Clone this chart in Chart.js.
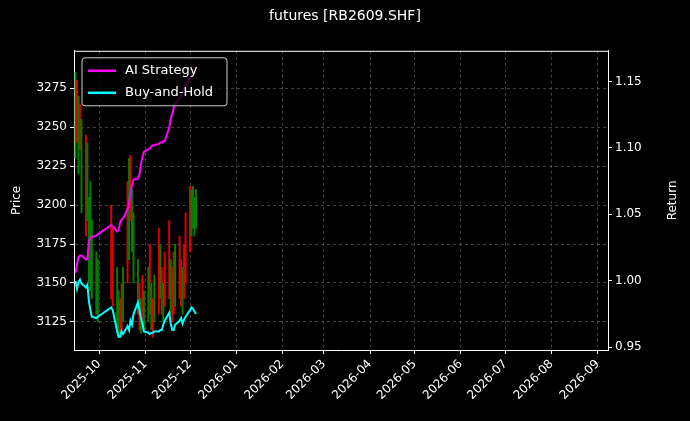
<!DOCTYPE html>
<html>
<head>
<meta charset="utf-8">
<script src="https://cdn.jsdelivr.net/npm/chart.js@4"></script>
<style>
  html, body { margin: 0; background: #000; }
  #wrap { width: 690px; height: 421px; }
</style>
</head>
<body>
<div id="wrap"><canvas id="chart"></canvas></div>
<script>
// trading days shown
const dates = [
  '2025-09-15','2025-09-16','2025-09-17','2025-09-18','2025-09-19',
  '2025-09-22','2025-09-23','2025-09-24','2025-09-25','2025-09-26',
  '2025-09-29','2025-09-30',
  '2025-10-09','2025-10-10',
  '2025-10-13','2025-10-14','2025-10-15','2025-10-16','2025-10-17',
  '2025-10-20','2025-10-21','2025-10-22','2025-10-23','2025-10-24',
  '2025-10-27','2025-10-28','2025-10-29','2025-10-30','2025-10-31',
  '2025-11-03','2025-11-04','2025-11-05','2025-11-06','2025-11-07',
  '2025-11-10','2025-11-11','2025-11-12','2025-11-13','2025-11-14',
  '2025-11-17','2025-11-18','2025-11-19','2025-11-20','2025-11-21',
  '2025-11-24','2025-11-25','2025-11-26','2025-11-27','2025-11-28',
  '2025-12-01','2025-12-02','2025-12-03','2025-12-04','2025-12-05'
];
const priceLow = [
  3230,3240,3220,3235,3195, 3180,3190,3150,3145,3140, 3130,3125, 3140,3135,
  3120,3115,3118,3120,3125, 3150,3165,3190,3170,3150, 3130,3120,3118,3125,3120,
  3125,3130,3120,3115,3125, 3130,3140,3130,3125,3135, 3140,3130,3125,3130,3135,
  3140,3135,3130,3140,3150, 3170,3180,3185,3180,3185
];
const priceHigh = [
  3285,3280,3270,3265,3255, 3245,3240,3205,3215,3190, 3170,3165, 3200,3185,
  3160,3145,3140,3150,3160, 3215,3230,3232,3210,3195, 3165,3150,3140,3155,3145,
  3160,3175,3150,3140,3155, 3185,3175,3160,3150,3170, 3190,3165,3160,3170,3175,
  3180,3165,3160,3175,3195, 3212,3210,3212,3205,3210
];
// 1 = green bar, 0 = red bar
const barUp = [
  1,0,1,0,1, 0,1,1,1,1, 1,1, 0,0,
  1,1,0,0,1, 0,1,0,1,1, 1,0,1,0,1,
  1,0,1,0,1, 0,1,0,1,0, 0,1,0,0,1,
  0,0,1,0,0, 0,1,1,1,1
];
const aiReturn = [
  1.006,1.012,1.018,1.019,1.019, 1.016,1.016,1.030,1.032,1.033, 1.034,1.035, 1.042,1.041,
  1.037,1.038,1.044,1.046,1.047, 1.054,1.058,1.066,1.072,1.076, 1.077,1.080,1.088,1.093,1.097,
  1.099,1.100,1.101,1.102,1.102, 1.103,1.104,1.104,1.105,1.105, 1.115,1.122,1.125,1.130,1.133,
  1.137,1.139,1.141,1.144,1.148, 1.152,1.154,1.157,1.159,1.161
];
const bhReturn = [
  1.000,0.994,0.999,1.001,0.998, 0.995,0.997,0.985,0.978,0.973, 0.972,0.973, 0.980,0.978,
  0.962,0.958,0.958,0.962,0.960, 0.966,0.963,0.970,0.967,0.975, 0.984,0.978,0.972,0.968,0.962,
  0.961,0.960,0.961,0.961,0.962, 0.962,0.963,0.963,0.967,0.970, 0.976,0.968,0.963,0.963,0.967,
  0.970,0.972,0.968,0.971,0.973, 0.978,0.980,0.979,0.977,0.975
];
const monthTicks = ['2025-10','2025-11','2025-12','2026-01','2026-02','2026-03',
  '2026-04','2026-05','2026-06','2026-07','2026-08','2026-09'];

const ts = d => Date.parse(d + (d.length === 7 ? '-01' : '') + 'T00:00:00Z');
const xs = dates.map(ts);
const FONT = 'DejaVu Sans';

// legend inside the plot (top-left), top spine and axis titles
const extras = {
  id: 'extras',
  afterDraw(chart) {
    const { ctx, chartArea } = chart;
    const x = chartArea.left + 8, y = chartArea.top + 7;
    ctx.save();
    ctx.strokeStyle = '#ffffff'; ctx.lineWidth = 1;
    ctx.beginPath(); ctx.moveTo(chartArea.left, chartArea.top + 0.5);
    ctx.lineTo(chartArea.right, chartArea.top + 0.5); ctx.stroke();
    ctx.fillStyle = 'rgba(0,0,0,0.8)';
    ctx.strokeStyle = '#cccccc';
    ctx.beginPath();
    ctx.roundRect(x, y, 145, 48, 3);
    ctx.fill(); ctx.stroke();
    ctx.font = '13px "' + FONT + '"';
    ctx.textBaseline = 'middle';
    [['AI Strategy', '#ff00ff'], ['Buy-and-Hold', '#00ffff']].forEach(([label, c], i) => {
      const ly = y + 13 + i * 22;
      ctx.strokeStyle = c; ctx.lineWidth = 2.5;
      ctx.beginPath(); ctx.moveTo(x + 6, ly); ctx.lineTo(x + 34, ly); ctx.stroke();
      ctx.fillStyle = '#ffffff';
      ctx.fillText(label, x + 43, ly);
    });
    ctx.textAlign = 'center';
    ctx.font = '12px "' + FONT + '"';
    const midY = (chartArea.top + chartArea.bottom) / 2;
    [[17, 'Price'], [673, 'Return']].forEach(([tx, t]) => {
      ctx.save();
      ctx.translate(tx, midY);
      ctx.rotate(-Math.PI / 2);
      ctx.fillText(t, 0, 0);
      ctx.restore();
    });
    ctx.restore();
  }
};

const gridStyle = { color: 'rgba(128,128,128,0.5)', tickColor: '#ffffff', tickLength: 4 };

new Chart(document.getElementById('chart'), {
  type: 'bar',
  data: {
    datasets: [
      {
        type: 'line', label: 'AI Strategy', yAxisID: 'yR',
        data: xs.map((x, i) => ({ x, y: aiReturn[i] })),
        borderColor: '#ff00ff', borderWidth: 2, pointRadius: 0, order: 0
      },
      {
        type: 'line', label: 'Buy-and-Hold', yAxisID: 'yR',
        data: xs.map((x, i) => ({ x, y: bhReturn[i] })),
        borderColor: '#00ffff', borderWidth: 2, pointRadius: 0, order: 0
      },
      {
        label: 'Price', yAxisID: 'y',
        data: xs.map((x, i) => ({ x, y: [priceLow[i], priceHigh[i]] })),
        backgroundColor: barUp.map(u => u ? '#008000' : '#e00000'),
        barThickness: 1.3, order: 1
      }
    ]
  },
  options: {
    responsive: true, maintainAspectRatio: false, animation: false,
    plugins: {
      legend: { display: false },
      tooltip: { enabled: false },
      title: {
        display: true, text: 'futures [RB2609.SHF]', color: '#ffffff',
        font: { size: 14, family: FONT, weight: 'normal' },
        padding: { top: 8, bottom: 26 }
      }
    },
    scales: {
      x: {
        type: 'linear', offset: false, min: ts('2025-09-14'), max: ts('2026-09-08'),
        afterBuildTicks: s => { s.ticks = monthTicks.map(m => ({ value: ts(m) })); },
        afterFit: s => { s.height = 71; },
        ticks: {
          color: '#ffffff', maxRotation: 45, minRotation: 45,
          font: { size: 12, family: FONT },
          callback: v => new Date(v).toISOString().slice(0, 7)
        },
        grid: { ...gridStyle, offset: false },
        border: { color: '#ffffff', dash: [3, 3] }
      },
      y: {
        position: 'left', min: 3107, max: 3299,
        afterBuildTicks: s => { s.ticks = [3125,3150,3175,3200,3225,3250,3275].map(value => ({ value })); },
        afterFit: s => { s.width = 74; },
        ticks: { color: '#ffffff', font: { size: 12, family: FONT }, callback: v => String(v) },
        grid: gridStyle,
        border: { color: '#ffffff', dash: [3, 3] }
      },
      yR: {
        position: 'right', min: 0.948, max: 1.173,
        afterBuildTicks: s => { s.ticks = [0.95,1.0,1.05,1.1,1.15].map(value => ({ value })); },
        afterFit: s => { s.width = 82; },
        ticks: { color: '#ffffff', font: { size: 12, family: FONT }, callback: v => v.toFixed(2) },
        grid: { drawOnChartArea: false, tickColor: '#ffffff', tickLength: 4 },
        border: { color: '#ffffff' }
      }
    }
  },
  plugins: [extras]
});
</script>
</body>
</html>
